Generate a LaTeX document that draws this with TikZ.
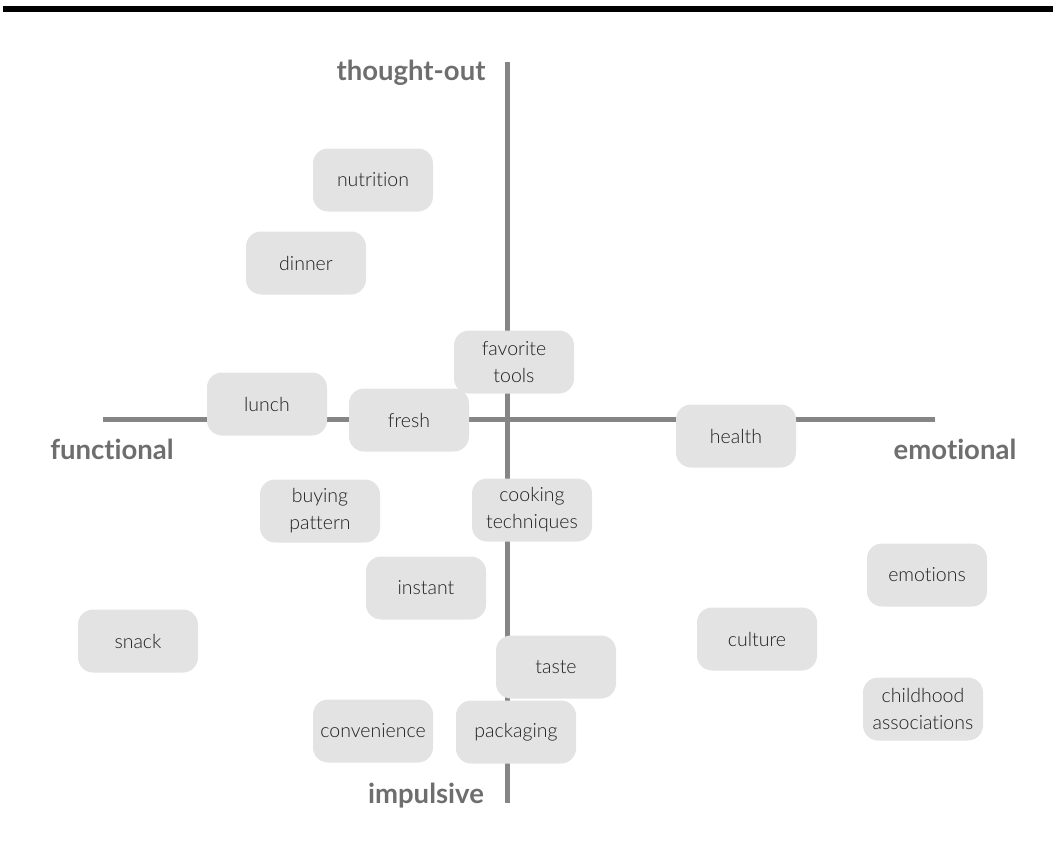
\documentclass[tikz,border=0pt]{standalone}
\usepackage{fontspec}
\setmainfont{Lato}[Ligatures=NoCommon]
\newfontfamily\lightfont{Lato Light}[Ligatures=NoCommon]
\definecolor{boxgray}{HTML}{E3E3E3}
\definecolor{axisgray}{HTML}{858585}
\definecolor{labelgray}{HTML}{6E6E6E}
\definecolor{textgray}{HTML}{1E1E1E}
\tikzset{
	item/.style={fill=boxgray, rounded corners=15pt, minimum width=120pt, minimum height=63pt, inner sep=0pt, align=center, text=textgray, font=\lightfont\fontsize{19.5}{27}\selectfont},
	pole/.style={anchor=base, inner sep=0pt, text=labelgray, font=\bfseries\fontsize{27.5}{30}\selectfont},
	axis/.style={axisgray, line width=5pt}
}

\begin{document}
\begin{tikzpicture}[x=1pt,y=-1pt]
	\useasboundingbox (0,0) rectangle (1053,857);
	%Top rule
	\fill[black] (3,6) rectangle (1053,12);

	% Draw axes
	%X
	\coordinate (fun) at (103,419);
	\coordinate (emo) at (935,419);
	\draw[axis] (fun) -- (emo);
	%Y
	\coordinate (top) at (507,62);
	\coordinate (bot) at (507,803);
	\draw[axis] (top) -- (bot);

	%Axes labels
	\node[pole] (thought) at (411,80) {thought-out};
	\node[pole] (impulsive) at (426,803) {impulsive};
	\node[pole] (functional) at (112,459) {functional};
	\node[pole] (emotional) at (955,459) {emotional};

	%Upper left
	\node[item] (nutrition) at (373,180) {nutrition};
	\node[item] (dinner) at (306,263) {dinner};
	\node[item] (tools) at (514,362) {favorite\\tools};
	\node[item] (lunch) at (267,404) {lunch};
	\node[item] (fresh) at (409,420) {fresh};
	%Right
	\node[item] (health) at (736,436) {health};
	\node[item] (emotions) at (927,575) {emotions};
	\node[item] (culture) at (757,639) {culture};
	\node[item] (childhood) at (923,709) {childhood\\associations};
	%Lower left
	\node[item] (buying) at (320,511) {buying\\pattern};
	\node[item] (cooking) at (532,510) {cooking\\techniques};
	\node[item] (instant) at (426,588) {instant};
	\node[item] (snack) at (138,641) {snack};
	\node[item] (taste) at (556,667) {taste};
	\node[item] (convenience) at (373,731) {convenience};
	\node[item] (packaging) at (516,732) {packaging};

\end{tikzpicture}
\end{document}
